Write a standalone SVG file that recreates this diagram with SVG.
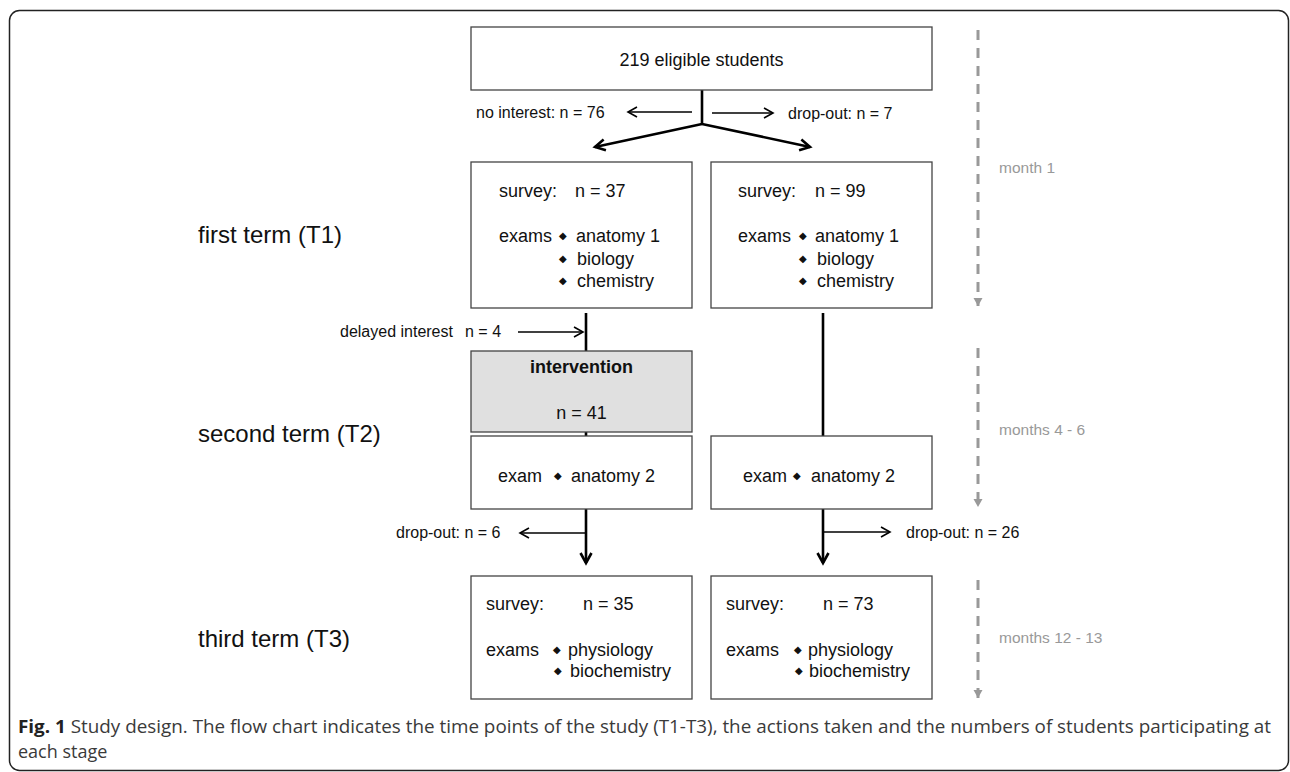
<svg xmlns="http://www.w3.org/2000/svg" width="1290" height="772" viewBox="0 0 1290 772">
<style>
.box{fill:#fff;stroke:#444;stroke-width:1.3}
.grey{fill:#e0e0e0;stroke:#444;stroke-width:1.3}
.t{font-family:"Liberation Sans",Arial,sans-serif;font-size:18px;fill:#111}
.lbl{font-family:"Liberation Sans",Arial,sans-serif;font-size:16px;fill:#111}
.term{font-family:"Liberation Sans",Arial,sans-serif;font-size:24px;fill:#111}
.mon{font-family:"Liberation Sans",Arial,sans-serif;font-size:15.5px;fill:#999}
.dia{font-family:"DejaVu Sans",sans-serif;font-size:10px}
.thick{stroke:#000;stroke-width:2.6;fill:none}
.thin{stroke:#000;stroke-width:1.5;fill:none}
.dash{stroke:#999;stroke-width:3;stroke-dasharray:10 8;fill:none}
.cap{font-family:"Open Sans","Liberation Sans",sans-serif;font-size:18px;fill:#3a3a3a}
</style>
<defs>
<marker id="ah" markerUnits="userSpaceOnUse" markerWidth="14" markerHeight="14" refX="10" refY="6" orient="auto" viewBox="0 0 14 12">
<path d="M1,1 L10,6 L1,11" fill="none" stroke="#000" stroke-width="1.6"/>
</marker>
<marker id="ahb" markerUnits="userSpaceOnUse" markerWidth="16" markerHeight="16" refX="11" refY="7" orient="auto" viewBox="0 0 16 14">
<path d="M1,1.5 L11,7 L1,12.5" fill="none" stroke="#000" stroke-width="2.6"/>
</marker>
<marker id="ahg" markerUnits="userSpaceOnUse" markerWidth="10" markerHeight="10" refX="8" refY="4.5" orient="auto" viewBox="0 0 10 9">
<path d="M0,0 L8,4.5 L0,9 Z" fill="#999"/>
</marker>
</defs>

<rect x="9.5" y="10.5" width="1279" height="760" rx="10" fill="none" stroke="#222" stroke-width="1.5"/>

<g id="term-labels">
<text class="term" x="198" y="243">first term (T1)</text>
<text class="term" x="198" y="442">second term (T2)</text>
<text class="term" x="198" y="647">third term (T3)</text>
</g>

<g id="timeline">
<line class="dash" x1="978" y1="30" x2="978" y2="306" marker-end="url(#ahg)"/>
<line class="dash" x1="978" y1="348" x2="978" y2="507" marker-end="url(#ahg)"/>
<line class="dash" x1="978" y1="580" x2="978" y2="698" marker-end="url(#ahg)"/>
<text class="mon" x="999" y="173">month 1</text>
<text class="mon" x="999" y="435">months 4 - 6</text>
<text class="mon" x="999" y="643">months 12 - 13</text>
</g>

<g id="connectors">
<line class="thick" x1="702" y1="90" x2="702" y2="124"/>
<line class="thick" x1="702" y1="124" x2="595" y2="147" marker-end="url(#ahb)"/>
<line class="thick" x1="702" y1="124" x2="810" y2="147" marker-end="url(#ahb)"/>
<line class="thin" x1="692" y1="112" x2="628" y2="112" marker-end="url(#ah)"/>
<line class="thin" x1="712" y1="113" x2="773" y2="113" marker-end="url(#ah)"/>
<line class="thick" x1="586" y1="313" x2="586" y2="351"/>
<line class="thin" x1="518" y1="332" x2="583" y2="332" marker-end="url(#ah)"/>
<line class="thick" x1="586" y1="432" x2="586" y2="436"/>
<line class="thick" x1="823" y1="313" x2="823" y2="436"/>
<line class="thick" x1="586" y1="509" x2="586" y2="563" marker-end="url(#ahb)"/>
<line class="thin" x1="586" y1="533" x2="520" y2="533" marker-end="url(#ah)"/>
<line class="thick" x1="823" y1="509" x2="823" y2="563" marker-end="url(#ahb)"/>
<line class="thin" x1="824" y1="532" x2="890" y2="532" marker-end="url(#ah)"/>
<text class="lbl" x="476" y="118">no interest: n = 76</text>
<text class="lbl" x="788" y="119">drop-out: n = 7</text>
<text class="lbl" x="340" y="337" font-size="15">delayed interest<tspan x="465">n = 4</tspan></text>
<text class="lbl" x="396" y="538">drop-out: n = 6</text>
<text class="lbl" x="906" y="538">drop-out: n = 26</text>
</g>

<g id="n-eligible">
<rect class="box" x="471" y="27" width="461" height="63"/>
<text class="t" x="701.5" y="66" text-anchor="middle" font-size="18.5">219 eligible students</text>
</g>

<g id="t1-intervention">
<rect class="box" x="471" y="162" width="221" height="146"/>
<text class="t" x="499" y="197">survey:<tspan x="575">n = 37</tspan></text>
<text class="t" x="499" y="242">exams<tspan class="dia" x="559" dy="-3">◆</tspan><tspan x="576" dy="3">anatomy 1</tspan></text>
<text class="t" x="559" y="262"><tspan class="dia">◆</tspan><tspan x="577" dy="3">biology</tspan></text>
<text class="t" x="559" y="284"><tspan class="dia">◆</tspan><tspan x="577" dy="3">chemistry</tspan></text>
</g>

<g id="t1-control">
<rect class="box" x="711" y="162" width="221" height="146"/>
<text class="t" x="738" y="197">survey:<tspan x="815">n = 99</tspan></text>
<text class="t" x="738" y="242">exams<tspan class="dia" x="799" dy="-3">◆</tspan><tspan x="815" dy="3">anatomy 1</tspan></text>
<text class="t" x="799" y="262"><tspan class="dia">◆</tspan><tspan x="817" dy="3">biology</tspan></text>
<text class="t" x="799" y="284"><tspan class="dia">◆</tspan><tspan x="817" dy="3">chemistry</tspan></text>
</g>

<g id="intervention">
<rect class="grey" x="471" y="351" width="221" height="81"/>
<text class="t" x="581.5" y="373" text-anchor="middle" font-weight="bold">intervention</text>
<text class="t" x="581.5" y="419" text-anchor="middle">n = 41</text>
</g>

<g id="t2-intervention">
<rect class="box" x="471" y="436" width="221" height="73"/>
<text class="t" x="498" y="482">exam<tspan class="dia" x="554" dy="-3">◆</tspan><tspan x="571" dy="3">anatomy 2</tspan></text>
</g>

<g id="t2-control">
<rect class="box" x="711" y="436" width="221" height="73"/>
<text class="t" x="743" y="482">exam<tspan class="dia" x="793" dy="-3">◆</tspan><tspan x="811" dy="3">anatomy 2</tspan></text>
</g>

<g id="t3-intervention">
<rect class="box" x="471" y="576" width="221" height="123"/>
<text class="t" x="486" y="610">survey:<tspan x="583">n = 35</tspan></text>
<text class="t" x="486" y="656">exams<tspan class="dia" x="553" dy="-3">◆</tspan><tspan x="568" dy="3">physiology</tspan></text>
<text class="t" x="554" y="674"><tspan class="dia">◆</tspan><tspan x="570" dy="3">biochemistry</tspan></text>
</g>

<g id="t3-control">
<rect class="box" x="711" y="576" width="221" height="123"/>
<text class="t" x="726" y="610">survey:<tspan x="823">n = 73</tspan></text>
<text class="t" x="726" y="656">exams<tspan class="dia" x="794" dy="-3">◆</tspan><tspan x="808" dy="3">physiology</tspan></text>
<text class="t" x="795" y="674"><tspan class="dia">◆</tspan><tspan x="809" dy="3">biochemistry</tspan></text>
</g>

<g id="caption">
<text class="cap" x="18" y="733" textLength="1253" lengthAdjust="spacingAndGlyphs"><tspan font-weight="bold" fill="#222">Fig. 1</tspan> Study design. The flow chart indicates the time points of the study (T1-T3), the actions taken and the numbers of students participating at</text>
<text class="cap" x="18" y="758">each stage</text>
</g>
</svg>
